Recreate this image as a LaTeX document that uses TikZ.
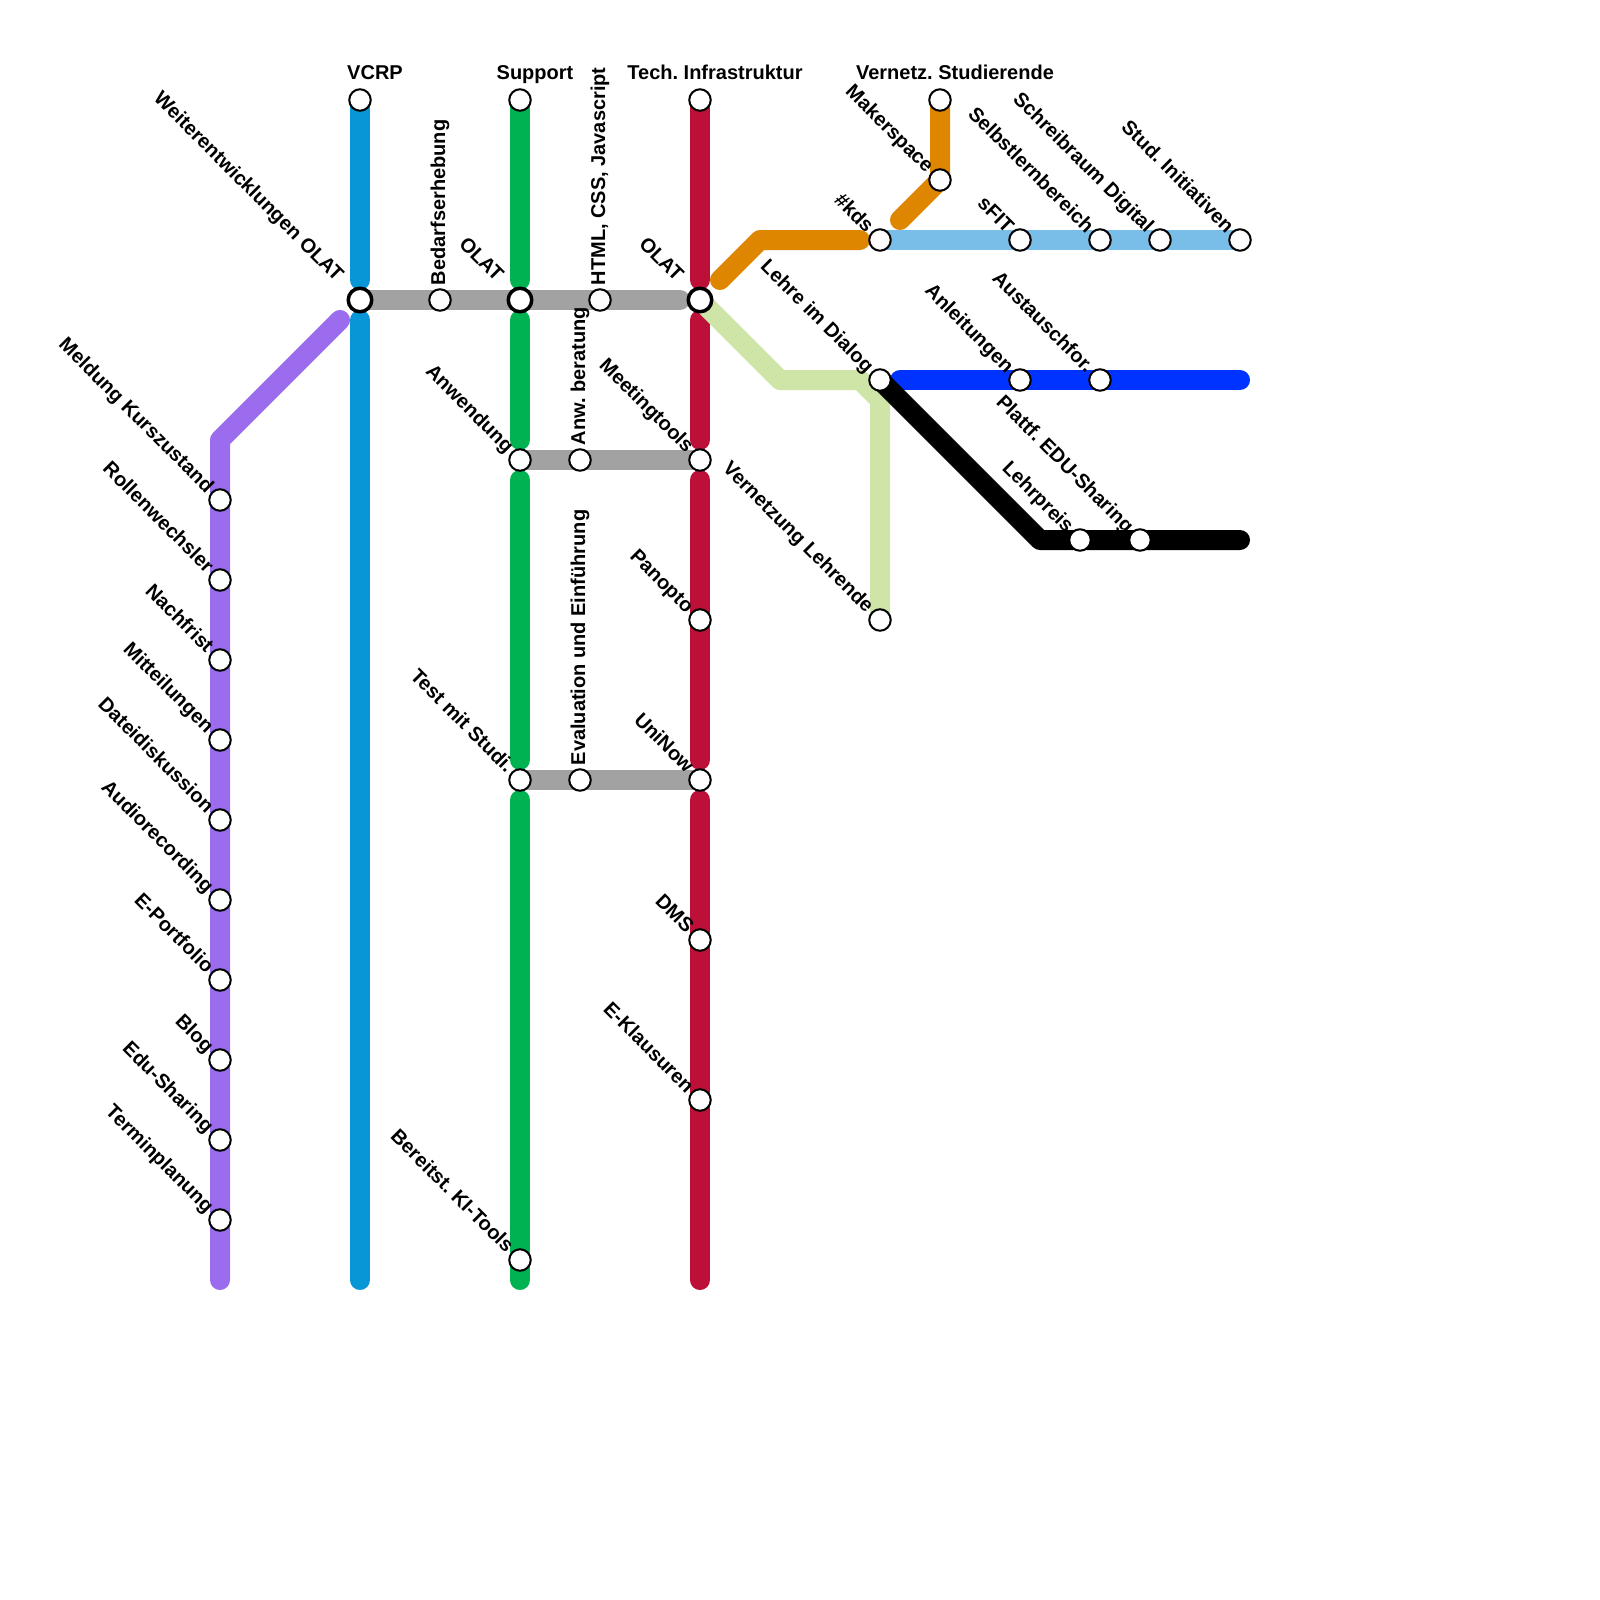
\documentclass[tikz,border=0pt]{standalone}
\usepackage{fontspec}
\setmainfont{Liberation Sans}
\usetikzlibrary{backgrounds}
\definecolor{vcrpblue}{HTML}{0896D7}
\definecolor{supportgreen}{HTML}{00B251}
\definecolor{techred}{HTML}{BD1038}
\definecolor{kurspurple}{HTML}{9B6CED}
\definecolor{linkgray}{HTML}{A2A2A2}
\definecolor{makerorange}{HTML}{DF8600}
\definecolor{studblue}{HTML}{79BDE9}
\definecolor{lehrgreen}{HTML}{CFE4A7}
\definecolor{dialogblue}{HTML}{0033FF}
\tikzset{
  metro/.style={line width=20pt, line cap=round, line join=round},
  stop/.style={circle, draw=black, fill=white, line width=2pt, minimum size=21.5pt, inner sep=0pt},
  hub/.style={circle, draw=black, fill=white, line width=3.5pt, minimum size=23.5pt, inner sep=0pt},
  stoptext/.style={font=\frenchspacing\bfseries\fontsize{20}{24}\selectfont, inner sep=0pt, outer sep=0pt},
  lefttext/.style={stoptext, xshift=-6pt, yshift=-2pt, rotate=-45, anchor=base east},
  hubtext/.style={stoptext, xshift=-15pt, yshift=8pt, rotate=-45, anchor=base east},
  uptext/.style={stoptext, xshift=5pt, yshift=3pt, rotate=90, anchor=base west},
  toptext/.style={stoptext, xshift=15pt, yshift=8.5pt, anchor=base},
}
\begin{document}
\begin{tikzpicture}[x=20pt, y=-20pt]
\useasboundingbox (0,0) rectangle (80,80);
% Kurs
\node[stop, label={[lefttext, name=meldungtext]135:Meldung Kurszustand}] (meldung) at (11,25) {};
\node[stop, label={[lefttext, name=rollentext]135:Rollenwechsler}] (rollen) at (11,29) {};
\node[stop, label={[lefttext, name=nachfristtext]135:Nachfrist}] (nachfrist) at (11,33) {};
\node[stop, label={[lefttext, name=mitteiltext]135:Mitteilungen}] (mitteil) at (11,37) {};
\node[stop, label={[lefttext, name=dateitext]135:Dateidiskussion}] (datei) at (11,41) {};
\node[stop, label={[lefttext, name=audiotext]135:Audiorecording}] (audio) at (11,45) {};
\node[stop, label={[lefttext, name=portfoliotext]135:E-Portfolio}] (portfolio) at (11,49) {};
\node[stop, label={[lefttext, name=blogtext]135:Blog}] (blog) at (11,53) {};
\node[stop, label={[lefttext, name=edutext]135:Edu-Sharing}] (edu) at (11,57) {};
\node[stop, label={[lefttext, name=termintext]135:Terminplanung}] (termin) at (11,61) {};
% VCRP
\node[stop, label={[toptext, name=vcrptext]90:VCRP}] (vcrp) at (18,5) {};
\node[hub, label={[hubtext, name=weitertext]135:Weiterentwicklungen OLAT}] (weiter) at (18,15) {};
\node[stop, label={[uptext, name=bedarftext]90:Bedarfserhebung}] (bedarf) at (22,15) {};
% Support
\node[stop, label={[toptext, name=supporttext]90:Support}] (support) at (26,5) {};
\node[hub, label={[hubtext, name=olatatext]135:OLAT}] (olata) at (26,15) {};
\node[stop, label={[lefttext, name=anwendtext]135:Anwendung}] (anwend) at (26,23) {};
\node[stop, label={[lefttext, name=testtext]135:Test mit Studi.}] (test) at (26,39) {};
\node[stop, label={[lefttext, name=kitext]135:Bereitst. KI-Tools}] (ki) at (26,63) {};
\node[stop, label={[uptext, name=htmltext]90:HTML, CSS, Javascript}] (html) at (30,15) {};
\node[stop, label={[uptext, name=beratungtext]90:Anw. beratung}] (beratung) at (29,23) {};
\node[stop, label={[uptext, name=evaltext]90:Evaluation und Einführung}] (eval) at (29,39) {};
% Tech
\node[stop, label={[toptext, name=techtext]90:Tech. Infrastruktur}] (tech) at (35,5) {};
\node[hub, label={[hubtext, name=olatbtext]135:OLAT}] (olatb) at (35,15) {};
\node[stop, label={[lefttext, name=meetingtext]135:Meetingtools}] (meeting) at (35,23) {};
\node[stop, label={[lefttext, name=panoptotext]135:Panopto}] (panopto) at (35,31) {};
\node[stop, label={[lefttext, name=uninowtext]135:UniNow}] (uninow) at (35,39) {};
\node[stop, label={[lefttext, name=dmstext]135:DMS}] (dms) at (35,47) {};
\node[stop, label={[lefttext, name=klausurtext]135:E-Klausuren}] (klausur) at (35,55) {};
% Studierende
\node[stop, label={[toptext, name=vernetzstext]90:Vernetz. Studierende}] (vernetzs) at (47,5) {};
\node[stop, label={[lefttext, name=makertext]135:Makerspace}] (maker) at (47,9) {};
\node[stop, label={[lefttext, name=kdstext]135:\#kds}] (kds) at (44,12) {};
\node[stop, label={[lefttext, name=sfittext]135:sFIT}] (sfit) at (51,12) {};
\node[stop, label={[lefttext, name=selbsttext]135:Selbstlernbereich}] (selbst) at (55,12) {};
\node[stop, label={[lefttext, name=schreibtext]135:Schreibraum Digital}] (schreib) at (58,12) {};
\node[stop, label={[lefttext, name=initiativtext]135:Stud. Initiativen}] (initiativ) at (62,12) {};
% Lehrende
\node[stop, label={[lefttext, name=dialogtext]135:Lehre im Dialog}] (dialog) at (44,19) {};
\node[stop, label={[lefttext, name=anleittext]135:Anleitungen}] (anleit) at (51,19) {};
\node[stop, label={[lefttext, name=austauschtext]135:Austauschfor.}] (austausch) at (55,19) {};
\node[stop, label={[lefttext, name=lehrpreistext]135:Lehrpreis}] (lehrpreis) at (54,27) {};
\node[stop, label={[lefttext, name=plattftext]135:Plattf. EDU-Sharing}] (plattf) at (57,27) {};
\node[stop, label={[lefttext, name=vernetzltext]135:Vernetzung Lehrende}] (vernetzl) at (44,31) {};
% free ends and bends
\coordinate (kursend) at (11,64);
\coordinate (kursbend) at (11,22);
\coordinate (kurstop) at (17,16);
\coordinate (vcrpa) at (18,14);
\coordinate (vcrpb) at (18,16);
\coordinate (vcrpend) at (18,64);
\coordinate (grayend) at (34,15);
\coordinate (supporta) at (26,14);
\coordinate (supportb) at (26,16);
\coordinate (supportc) at (26,22);
\coordinate (supportd) at (26,24);
\coordinate (supporte) at (26,38);
\coordinate (supportf) at (26,40);
\coordinate (supportend) at (26,64);
\coordinate (techa) at (35,14);
\coordinate (techb) at (35,16);
\coordinate (techc) at (35,22);
\coordinate (techd) at (35,24);
\coordinate (teche) at (35,38);
\coordinate (techf) at (35,40);
\coordinate (techend) at (35,64);
\coordinate (makerend) at (45,11);
\coordinate (orangea) at (36,14);
\coordinate (orangeb) at (38,12);
\coordinate (orangec) at (43,12);
\coordinate (lehrbenda) at (39,19);
\coordinate (lehrbendb) at (43,19);
\coordinate (lehrbendc) at (44,20);
\coordinate (dialogstart) at (45,19);
\coordinate (dialogend) at (62,19);
\coordinate (preisbend) at (52,27);
\coordinate (preisend) at (62,27);
\begin{scope}[on background layer]
% links
\draw[metro, linkgray] (weiter.center) -- (grayend);
\draw[metro, linkgray] (anwend.center) -- (meeting.center);
\draw[metro, linkgray] (test.center) -- (uninow.center);
% Kurs
\draw[metro, kurspurple] (kursend) -- (kursbend) -- (kurstop);
% VCRP
\draw[metro, vcrpblue] (vcrp.center) -- (vcrpa);
\draw[metro, vcrpblue] (vcrpb) -- (vcrpend);
% Support
\draw[metro, supportgreen] (support.center) -- (supporta);
\draw[metro, supportgreen] (supportb) -- (supportc);
\draw[metro, supportgreen] (supportd) -- (supporte);
\draw[metro, supportgreen] (supportf) -- (supportend);
% Tech
\draw[metro, techred] (tech.center) -- (techa);
\draw[metro, techred] (techb) -- (techc);
\draw[metro, techred] (techd) -- (teche);
\draw[metro, techred] (techf) -- (techend);
% Studierende
\draw[metro, makerorange] (vernetzs.center) -- (maker.center) -- (makerend);
\draw[metro, makerorange] (orangea) -- (orangeb) -- (orangec);
\draw[metro, studblue] (kds.center) -- (initiativ.center);
% Lehrende
\draw[metro, lehrgreen] (olatb.center) -- (lehrbenda) -- (lehrbendb) -- (lehrbendc) -- (vernetzl.center);
\draw[metro, dialogblue] (dialogstart) -- (dialogend);
\draw[metro, black] (dialog.center) -- (preisbend) -- (preisend);
\end{scope}
\end{tikzpicture}
\end{document}
